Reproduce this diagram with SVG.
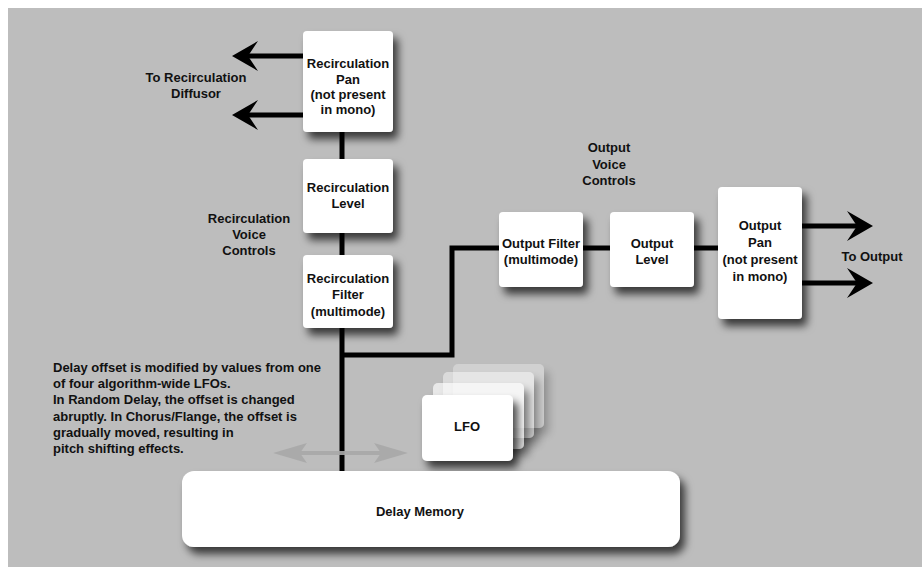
<svg xmlns="http://www.w3.org/2000/svg" width="922" height="567" viewBox="0 0 922 567">
<style>
.box{fill:#fff;filter:url(#sh)}
.t{font-family:"Liberation Sans",Arial,sans-serif;font-weight:bold;font-size:13px;fill:#111;text-anchor:middle}
.tl{text-anchor:start}
.wire{fill:none;stroke:#000;stroke-width:5}
</style>
<defs>
<filter id="sh" x="-30%" y="-30%" width="170%" height="170%">
<feDropShadow dx="5" dy="7" stdDeviation="4.5" flood-color="#000" flood-opacity="0.7"/>
</filter>
<marker id="arr" viewBox="-27 -16 28 32" refX="-12" refY="0" markerWidth="28" markerHeight="32" markerUnits="userSpaceOnUse" orient="auto">
<path d="M0,0 L-26,-15 L-16,0 L-26,15 Z" fill="#000"/>
</marker>
</defs>
<rect x="0" y="0" width="922" height="567" fill="#fff"/>
<rect x="8" y="8" width="914" height="559" fill="#bdbdbd"/>

<g id="connectors">
<line class="wire" x1="342" y1="130" x2="342" y2="472"/>
<line class="wire" x1="305" y1="56" x2="244" y2="56" marker-end="url(#arr)"/>
<line class="wire" x1="305" y1="115" x2="244" y2="115" marker-end="url(#arr)"/>
<path class="wire" d="M342,355 H452 V248 H501"/>
<line class="wire" x1="581" y1="248" x2="612" y2="248"/>
<line class="wire" x1="692" y1="248" x2="720" y2="248"/>
<line class="wire" x1="800" y1="226" x2="861" y2="226" marker-end="url(#arr)"/>
<line class="wire" x1="800" y1="283" x2="861" y2="283" marker-end="url(#arr)"/>
<g id="offset-arrow" fill="#a9a9a9" opacity="0.9">
<rect x="295" y="451" width="86" height="4"/>
<polygon points="273,453 307,443 300,453 307,463"/>
<polygon points="408,453 374,443 381,453 374,463"/>
</g>
</g>

<g id="recirc-pan">
<rect class="box" x="303" y="31" width="90" height="101" rx="4"/>
<text class="t" x="348" y="68">Recirculation</text>
<text class="t" x="348" y="84">Pan</text>
<text class="t" x="348" y="99">(not present</text>
<text class="t" x="348" y="114">in mono)</text>
</g>
<g id="recirc-level">
<rect class="box" x="303" y="159" width="90" height="74" rx="4"/>
<text class="t" x="348" y="192">Recirculation</text>
<text class="t" x="348" y="208">Level</text>
</g>
<g id="recirc-filter">
<rect class="box" x="303" y="255" width="90" height="73" rx="4"/>
<text class="t" x="348" y="283">Recirculation</text>
<text class="t" x="348" y="299">Filter</text>
<text class="t" x="348" y="316">(multimode)</text>
</g>
<g id="output-filter">
<rect class="box" x="499" y="212" width="84" height="75" rx="4"/>
<text class="t" x="541" y="248">Output Filter</text>
<text class="t" x="541" y="264">(multimode)</text>
</g>
<g id="output-level">
<rect class="box" x="610" y="212" width="84" height="75" rx="4"/>
<text class="t" x="652" y="248">Output</text>
<text class="t" x="652" y="264">Level</text>
</g>
<g id="output-pan">
<rect class="box" x="718" y="187" width="84" height="132" rx="4"/>
<text class="t" x="760" y="230">Output</text>
<text class="t" x="760" y="247">Pan</text>
<text class="t" x="760" y="264">(not present</text>
<text class="t" x="760" y="281">in mono)</text>
</g>
<g id="lfo">
<rect x="453" y="364" width="91" height="64" rx="5" fill="#fff" opacity="0.3" filter="url(#sh)"/>
<rect x="443" y="372" width="91" height="66" rx="5" fill="#fff" opacity="0.45" filter="url(#sh)"/>
<rect x="433" y="383" width="91" height="66" rx="5" fill="#fff" opacity="0.65" filter="url(#sh)"/>
<rect class="box" x="422" y="395" width="91" height="66" rx="5"/>
<text class="t" x="467" y="431">LFO</text>
</g>
<g id="delay-memory">
<rect class="box" x="182" y="471" width="498" height="76" rx="12"/>
<text class="t" x="420" y="516">Delay Memory</text>
</g>

<g id="labels">
<text class="t" x="196" y="82">To Recirculation</text>
<text class="t" x="196" y="98">Diffusor</text>
<text class="t" x="249" y="223">Recirculation</text>
<text class="t" x="249" y="239">Voice</text>
<text class="t" x="249" y="255">Controls</text>
<text class="t" x="609" y="152">Output</text>
<text class="t" x="609" y="169">Voice</text>
<text class="t" x="609" y="185">Controls</text>
<text class="t" x="872" y="261">To Output</text>
<text class="t tl" x="53" y="372">Delay offset is modified by values from one</text>
<text class="t tl" x="53" y="388">of four algorithm-wide LFOs.</text>
<text class="t tl" x="53" y="404">In Random Delay, the offset is changed</text>
<text class="t tl" x="53" y="421">abruptly. In Chorus/Flange, the offset is</text>
<text class="t tl" x="53" y="437">gradually moved, resulting in</text>
<text class="t tl" x="53" y="453">pitch shifting effects.</text>
</g>
</svg>
